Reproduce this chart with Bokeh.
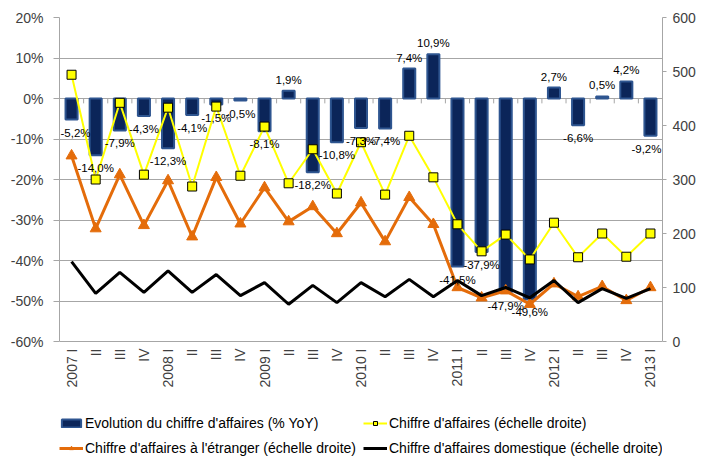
import math
from bokeh.plotting import figure
from bokeh.models import Range1d, LinearAxis, FixedTicker, Legend, LegendItem
from bokeh.core.properties import value
from bokeh.embed import file_html
from bokeh.resources import INLINE

quarters = ["2007 I", "II", "III", "IV", "2008 I", "II", "III", "IV",
            "2009 I", "II", "III", "IV", "2010 I", "II", "III", "IV",
            "2011 I", "II", "III", "IV", "2012 I", "II", "III", "IV", "2013 I"]
evolution_pct = [-5.2, -14.0, -7.9, -4.3, -12.3, -4.1, -1.5, -0.5, -8.1, 1.9,
                 -18.2, -10.8, -7.3, -7.4, 7.4, 10.9, -41.5, -37.9, -47.9, -49.6,
                 2.7, -6.6, 0.5, 4.2, -9.2]
ca_total = [494, 300, 442, 309, 433, 287, 435, 307, 398, 293, 356, 274, 369,
            272, 381, 304, 217, 167, 198, 152, 220, 156, 200, 157, 200]
ca_etranger = [344, 209, 309, 215, 298, 194, 304, 218, 285, 222, 250, 200, 257,
               185, 267, 217, 100, 81, 94, 69, 107, 83, 102, 76, 100]
ca_domestique = [148, 89, 128, 91, 131, 91, 124, 85, 109, 69, 104, 72, 109,
                 83, 115, 83, 113, 85, 100, 81, 113, 72, 98, 80, 98]
left_ticks = [-60, -50, -40, -30, -20, -10, 0, 10, 20]
right_ticks = [0, 100, 200, 300, 400, 500, 600]

REG = "Liberation Sans"
GRID = "#a6a6a6"
TICKC = "#404040"

# the frame extends below the chart body to host category labels and legend
EXTRA = 28.64  # extra left-axis units below the lowest tick (space only)
ratio = (right_ticks[-1] - right_ticks[0]) / (left_ticks[-1] - left_ticks[0])

xs = list(range(len(quarters)))
n = len(xs)

p = figure(width=702, height=457, x_range=Range1d(-0.5, n - 0.5),
           y_range=Range1d(left_ticks[0] - EXTRA, left_ticks[-1]),
           x_axis_location=None,
           output_backend="svg", toolbar_location=None,
           min_border_left=59, min_border_right=40, min_border_top=17,
           min_border_bottom=0)
p.outline_line_color = None
p.background_fill_color = "white"
p.extra_y_ranges = {"right": Range1d(right_ticks[0] - EXTRA * ratio, right_ticks[-1])}

# left axis
ya = p.yaxis[0]
ya.ticker = FixedTicker(ticks=left_ticks)
ya.bounds = (left_ticks[0], left_ticks[-1])
ya.major_label_overrides = {t: f"{t}%" for t in left_ticks}
ya.axis_line_color = GRID
ya.major_tick_line_color = GRID
ya.major_tick_out = 6
ya.major_tick_in = 0
ya.minor_tick_line_color = None
ya.major_label_standoff = 10
ya.major_label_text_font = REG
ya.major_label_text_font_size = "14px"
ya.major_label_text_color = TICKC

# right axis
ra = LinearAxis(y_range_name="right", ticker=FixedTicker(ticks=right_ticks))
ra.bounds = (right_ticks[0], right_ticks[-1])
ra.axis_line_color = GRID
ra.major_tick_line_color = GRID
ra.major_tick_out = 4
ra.major_tick_in = 0
ra.minor_tick_line_color = None
ra.major_label_standoff = 6
ra.major_label_text_font = REG
ra.major_label_text_font_size = "14px"
ra.major_label_text_color = TICKC
p.add_layout(ra, "right")

p.xgrid.visible = False
p.ygrid.ticker = FixedTicker(ticks=left_ticks)
p.ygrid.grid_line_color = GRID

# small category ticks on the 0% line
mids = [i + 0.5 for i in xs[:-1]]
p.segment(x0=mids, y0=[0] * len(mids), x1=mids, y1=[-1.2] * len(mids),
          line_color=GRID, line_width=1)

bars = p.vbar(x=xs, top=evolution_pct, bottom=0, width=0.5,
              fill_color="#0b2559", line_color="#2e5590", line_width=2)

yl = p.line(xs, ca_total, y_range_name="right", line_color="#ffff00", line_width=2)
ysc = p.scatter(xs, ca_total, y_range_name="right", marker="square", size=9,
                fill_color="#ffff00", line_color="black", line_width=1)

ol = p.line(xs, ca_etranger, y_range_name="right", line_color="#e46c0a", line_width=3)
osc = p.scatter(xs, ca_etranger, y_range_name="right", marker="triangle", size=11,
                fill_color="#e46c0a", line_color="#e46c0a")

bl = p.line(xs, ca_domestique, y_range_name="right", line_color="black", line_width=3)

# data labels of the bars
labels = [f"{v:.1f}%".replace(".", ",") for v in evolution_pct]
y_offsets = [-11 if v > 0 else 13 for v in evolution_pct]
x_offsets = [4 if i == 0 else (-4 if i == n - 1 else 0) for i in xs]
p.text(x=xs, y=evolution_pct, text=labels, x_offset=x_offsets, y_offset=y_offsets,
       text_align="center", text_baseline="middle",
       text_font=value(REG), text_font_size="11.5px", text_color="black")

# category labels under the chart body (vertical, reading upward)
p.text(x=xs, y=[left_ticks[0]] * n, text=quarters, y_offset=7,
       angle=math.pi / 2, text_align="right", text_baseline="middle",
       text_font=value(REG), text_font_size="14px", text_color=TICKC)

def make_legend(items, loc):
    lg = Legend(items=items, orientation="horizontal", location=loc,
                label_text_font=REG, label_text_font_size="14px",
                label_text_color="black", glyph_width=24, glyph_height=10,
                label_standoff=2, label_width=271, label_height=16,
                spacing=7, padding=0, margin=0, border_line_color=None,
                background_fill_alpha=0)
    return lg

leg1 = make_legend([
    LegendItem(label="Evolution du chiffre d'affaires (% YoY)", renderers=[bars]),
    LegendItem(label="Chiffre d'affaires (échelle droite)", renderers=[yl, ysc]),
], (0, 26))
leg2 = make_legend([
    LegendItem(label="Chiffre d'affaires à l'étranger (échelle droite)", renderers=[ol, osc]),
    LegendItem(label="Chiffre d'affaires domestique (échelle droite)", renderers=[bl]),
], (0, 1))
p.add_layout(leg1)
p.add_layout(leg2)

open("out.html", "w").write(file_html(p, INLINE))
